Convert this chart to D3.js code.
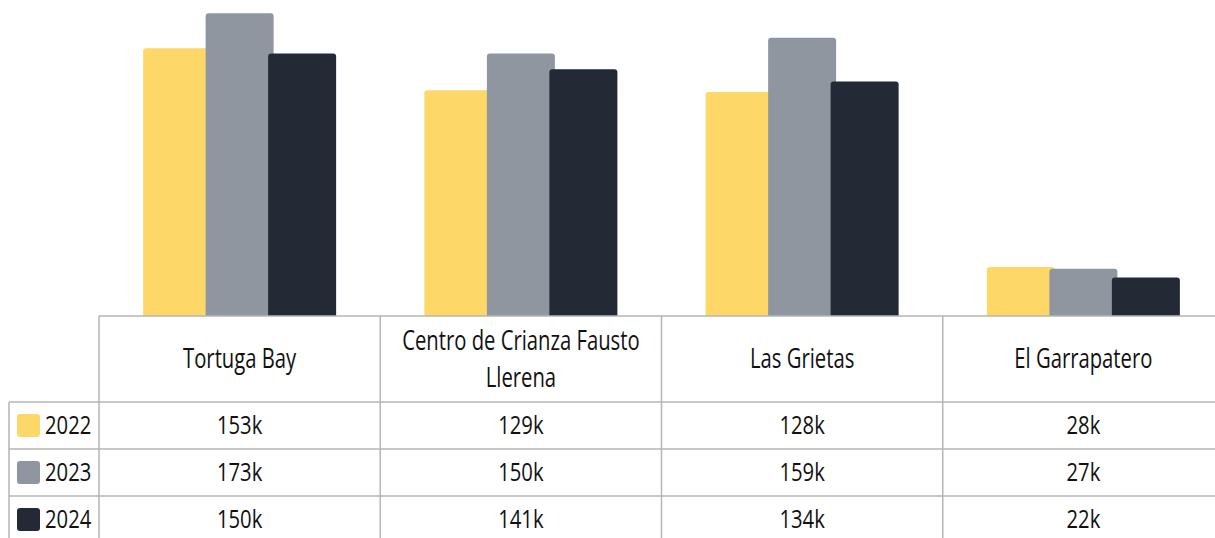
<!DOCTYPE html>
<html>
<head>
<meta charset="utf-8">
<script src="https://cdn.jsdelivr.net/npm/d3@7"></script>
<style>
  body { margin: 0; background: #fff; }
  text { font-family: "Open Sans", "Noto Sans", sans-serif; fill: #111; }
</style>
</head>
<body>
<div id="chart"></div>
<script>
// data
var categories = ["Tortuga Bay", "Centro de Crianza Fausto Llerena", "Las Grietas", "El Garrapatero"];
var years = ["2022", "2023", "2024"];
var values2022 = [153, 129, 128, 28];
var values2023 = [173, 150, 159, 27];
var values2024 = [150, 141, 134, 22];
var colors = ["#FDD868", "#8F969F", "#232A36"];

var series = [values2022, values2023, values2024];

var width = 1215, height = 538;
var baseY = 316, rowH = 47, headerH = 86;
// the reference uses a condensed face, so squeeze the text sideways
var headSX = 0.75, valSX = 0.81;

var svg = d3.select("#chart")
    .append("svg")
    .attr("width", width)
    .attr("height", height);

// scales
var x = d3.scaleBand()
    .domain(categories)
    .range([99, 1224]);

var y = d3.scaleLinear()
    .domain([0, 180])
    .range([baseY, 1]);

var step = 62.5, barW = 68;

// bars, drawn year by year so later bars sit on top
years.forEach(function (yr, i) {
    svg.append("g")
        .selectAll("path")
        .data(series[i])
        .enter()
        .append("path")
        .attr("d", function (d, j) {
            var cx = x(categories[j]) + x.bandwidth() / 2 + (i - 1) * step;
            var x0 = cx - barW / 2, x1 = cx + barW / 2, top = y(d), r = 3;
            return "M" + x0 + "," + baseY + "V" + (top + r) + "Q" + x0 + "," + top + " " + (x0 + r) + "," + top +
                "H" + (x1 - r) + "Q" + x1 + "," + top + " " + x1 + "," + (top + r) + "V" + baseY + "Z";
        })
        .attr("fill", colors[i]);
});

// table grid
var grid = svg.append("g").attr("stroke", "#B5B5B5").attr("stroke-width", 1.5);
grid.append("line").attr("x1", 99).attr("x2", width).attr("y1", baseY).attr("y2", baseY);
years.forEach(function (yr, i) {
    var yy = baseY + headerH + i * rowH;
    grid.append("line").attr("x1", 9).attr("x2", width).attr("y1", yy).attr("y2", yy);
});
grid.append("line").attr("x1", 9).attr("x2", 9).attr("y1", baseY + headerH).attr("y2", height);
categories.forEach(function (c) {
    grid.append("line").attr("x1", x(c)).attr("x2", x(c)).attr("y1", baseY).attr("y2", height);
});

// header labels, wrapped
svg.append("g")
    .selectAll("text")
    .data(categories)
    .enter()
    .append("text")
    .attr("text-anchor", "middle")
    .style("font-size", "27px")
    .attr("transform", function (d) {
        return "translate(" + (x(d) + x.bandwidth() / 2) + "," + (baseY + headerH / 2) + ") scale(" + headSX + ",1)";
    })
    .each(function (d) {
        var t = d3.select(this);
        var words = d.split(" "), lines = [], line = [];
        var tmp = t.append("tspan");
        words.forEach(function (w) {
            line.push(w);
            tmp.text(line.join(" "));
            if (tmp.node().getComputedTextLength() * headSX > 255 && line.length > 1) {
                line.pop();
                lines.push(line.join(" "));
                line = [w];
            }
        });
        lines.push(line.join(" "));
        tmp.remove();
        lines.forEach(function (l, k) {
            t.append("tspan")
                .attr("x", 0)
                .attr("y", (k - (lines.length - 1) / 2) * 37)
                .attr("dy", "0.35em")
                .text(l);
        });
    });

// value rows
years.forEach(function (yr, i) {
    var rowY = baseY + headerH + i * rowH + rowH / 2;
    var g = svg.append("g");
    g.selectAll("text")
        .data(series[i])
        .enter()
        .append("text")
        .attr("transform", function (d, j) {
            return "translate(" + (x(categories[j]) + x.bandwidth() / 2) + "," + rowY + ") scale(" + valSX + ",1)";
        })
        .attr("dy", "0.35em")
        .attr("text-anchor", "middle")
        .style("font-size", "25px")
        .text(function (d) { return d + "k"; });

    // legend key
    g.append("rect")
        .attr("x", 17).attr("y", rowY - 11.5)
        .attr("width", 23).attr("height", 23)
        .attr("rx", 3)
        .attr("fill", colors[i]);
    g.append("text")
        .attr("transform", "translate(45," + rowY + ") scale(" + valSX + ",1)")
        .attr("dy", "0.35em")
        .style("font-size", "25px")
        .text(yr);
});
</script>
</body>
</html>
